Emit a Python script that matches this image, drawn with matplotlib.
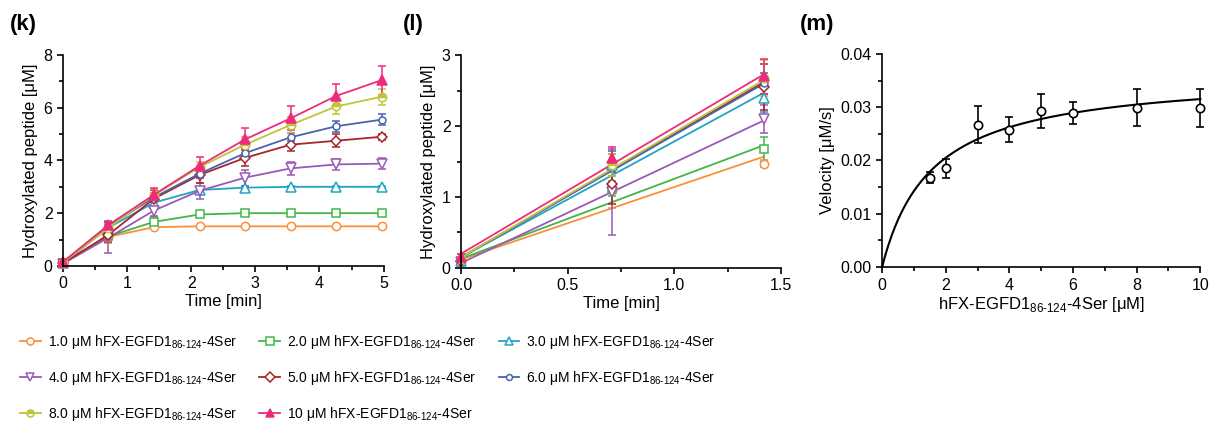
import numpy as np
import matplotlib
matplotlib.use("Agg")
import matplotlib.pyplot as plt
from matplotlib.ticker import MultipleLocator
from matplotlib.lines import Line2D

plt.rcParams['font.family'] = ['Liberation Sans', 'DejaVu Sans']
plt.rcParams['mathtext.fontset'] = 'custom'
plt.rcParams['mathtext.rm'] = 'Liberation Sans'

# ---- panel (k): time course ----
time_k = [0, 0.71, 1.42, 2.13, 2.84, 3.55, 4.26, 4.97]
conc_labels = ["1.0", "2.0", "3.0", "4.0", "5.0", "6.0", "8.0", "10"]
y_k = [
    [0.10, 1.10, 1.47, 1.50, 1.50, 1.50, 1.50, 1.50],
    [0.10, 1.12, 1.67, 1.95, 2.00, 2.00, 2.00, 2.00],
    [0.10, 1.45, 2.40, 2.88, 2.97, 3.00, 3.00, 3.00],
    [0.08, 1.07, 2.10, 2.85, 3.35, 3.70, 3.85, 3.88],
    [0.10, 1.18, 2.55, 3.45, 4.10, 4.60, 4.75, 4.90],
    [0.12, 1.50, 2.60, 3.50, 4.28, 4.88, 5.30, 5.55],
    [0.12, 1.45, 2.68, 3.75, 4.60, 5.35, 6.05, 6.42],
    [0.15, 1.55, 2.70, 3.80, 4.80, 5.60, 6.45, 7.05],
]
err_k = [
    [0.03, 0.25, 0.05, 0.03, 0.03, 0.03, 0.03, 0.03],
    [0.03, 0.10, 0.17, 0.05, 0.05, 0.05, 0.05, 0.05],
    [0.03, 0.15, 0.20, 0.10, 0.05, 0.05, 0.05, 0.05],
    [0.05, 0.60, 0.20, 0.30, 0.30, 0.25, 0.20, 0.20],
    [0.03, 0.28, 0.33, 0.30, 0.30, 0.25, 0.25, 0.12],
    [0.03, 0.15, 0.15, 0.15, 0.15, 0.15, 0.20, 0.20],
    [0.08, 0.15, 0.25, 0.20, 0.30, 0.30, 0.30, 0.30],
    [0.05, 0.15, 0.25, 0.35, 0.42, 0.45, 0.45, 0.55],
]

# ---- panel (l): linear fits over the first three points ----
fit_start = [0.12, 0.13, 0.15, 0.07, 0.15, 0.15, 0.15, 0.20]
fit_end = [1.57, 1.73, 2.47, 2.08, 2.62, 2.60, 2.65, 2.73]

# ---- panel (m): Michaelis-Menten ----
subst = [1.5, 2, 3, 4, 5, 6, 8, 10]
velocity = [0.0168, 0.0185, 0.0267, 0.0258, 0.0293, 0.0289, 0.0299, 0.0299]
vel_err = [0.0010, 0.0017, 0.0035, 0.0024, 0.0032, 0.0021, 0.0035, 0.0036]
vmax, km = 0.0364, 1.55

colors = ["#F7913D", "#43B649", "#20A4C4", "#9B59B6", "#A8262A",
          "#4A63B0", "#BFC43A", "#EE2B7B"]
markers = ["o", "s", "^", "v", "D", "o", "o", "^"]
msizes = [6, 6, 6.5, 6.5, 5.5, 5, 6, 6.5]

def style(i):
    kw = dict(color=colors[i], marker=markers[i], ms=msizes[i], mec=colors[i],
              mew=1.1, lw=1.3)
    if i == 7:
        kw["mfc"] = colors[i]
    elif i == 6:
        kw["mfc"] = colors[i]
        kw["fillstyle"] = "top"
        kw["markerfacecoloralt"] = "white"
    else:
        kw["mfc"] = "white"
    return kw

fig = plt.figure(figsize=(12.1, 4.24), dpi=100)
ax_k = fig.add_axes([0.052, 0.373, 0.265, 0.497])
ax_l = fig.add_axes([0.381, 0.368, 0.2645, 0.502])
ax_m = fig.add_axes([0.729, 0.370, 0.263, 0.503])

handles = []
for i in range(8):
    ax_k.errorbar(time_k, y_k[i], yerr=err_k[i], capsize=3, elinewidth=1.1,
                  capthick=1.1, **style(i))
    ax_l.plot([0, time_k[2]], [fit_start[i], fit_end[i]], color=colors[i], lw=1.3)
    kw = style(i)
    kw["lw"] = 0
    ax_l.errorbar(time_k[:3], y_k[i][:3], yerr=err_k[i][:3], capsize=3,
                  elinewidth=1.1, capthick=1.1, ecolor=colors[i], **kw)
    h = style(i)
    h["ms"] = h["ms"] * 0.85
    handles.append(Line2D([], [], **h))

labels = [c + " μM hFX-EGFD1$_{86\u2010124}$-4Ser" for c in conc_labels]

ax_m.errorbar(subst, velocity, yerr=vel_err, fmt="o", color="black", mfc="white",
              ms=6, mew=1.2, capsize=3, elinewidth=1.2, capthick=1.2, zorder=3)
xs = np.linspace(0, 10, 300)
ax_m.plot(xs, vmax * xs / (km + xs), color="black", lw=1.5)

for ax in (ax_k, ax_l, ax_m):
    for s in ("top", "right"):
        ax.spines[s].set_visible(False)
    ax.spines["left"].set_linewidth(1.2)
    ax.spines["bottom"].set_linewidth(1.2)
    ax.tick_params(labelsize=11.5, width=1.2, length=4, direction="out")
    ax.tick_params(which="minor", width=1.2, length=3)

ax_k.set_xlim(0, 5)
ax_k.set_ylim(0, 8)
ax_k.xaxis.set_major_locator(MultipleLocator(1))
ax_k.xaxis.set_minor_locator(MultipleLocator(0.5))
ax_k.yaxis.set_major_locator(MultipleLocator(2))
ax_k.yaxis.set_minor_locator(MultipleLocator(1))
ax_k.set_xlabel("Time [min]", fontsize=12, labelpad=2)
ax_k.set_ylabel("Hydroxylated peptide [μM]", fontsize=12, labelpad=4)

ax_l.set_xlim(0, 1.5)
ax_l.set_ylim(0, 3)
ax_l.xaxis.set_major_locator(MultipleLocator(0.5))
ax_l.xaxis.set_minor_locator(MultipleLocator(0.25))
ax_l.yaxis.set_major_locator(MultipleLocator(1))
ax_l.yaxis.set_minor_locator(MultipleLocator(0.5))
ax_l.xaxis.set_major_formatter(lambda v, p: f"{v:.1f}")
ax_l.set_xlabel("Time [min]", fontsize=12, labelpad=2)
ax_l.set_ylabel("Hydroxylated peptide [μM]", fontsize=12, labelpad=4)

ax_m.set_xlim(0, 10)
ax_m.set_ylim(0, 0.04)
ax_m.xaxis.set_major_locator(MultipleLocator(2))
ax_m.xaxis.set_minor_locator(MultipleLocator(1))
ax_m.yaxis.set_major_locator(MultipleLocator(0.01))
ax_m.yaxis.set_minor_locator(MultipleLocator(0.005))
ax_m.yaxis.set_major_formatter(lambda v, p: f"{v:.2f}")
ax_m.set_xlabel("hFX-EGFD1$_{86\u2010124}$-4Ser [μM]", fontsize=12, labelpad=2)
ax_m.set_ylabel("Velocity [μM/s]", fontsize=12, labelpad=4)

for ax in (ax_k, ax_l, ax_m):
    for art in ax.get_children():
        try:
            art.set_clip_on(False)
        except Exception:
            pass

fig.text(0.008, 0.93, "(k)", fontsize=16, fontweight="bold")
fig.text(0.333, 0.93, "(l)", fontsize=16, fontweight="bold")
fig.text(0.661, 0.93, "(m)", fontsize=16, fontweight="bold")

order = [0, 3, 6, 1, 4, 7, 2, 5]
fig.legend([handles[i] for i in order], [labels[i] for i in order], ncol=3,
           loc="upper left", bbox_to_anchor=(0.006, 0.245), frameon=False,
           fontsize=10, handlelength=1.5, handletextpad=0.5, columnspacing=1.6,
           labelspacing=1.3)

fig.savefig("out.png", dpi=100)
